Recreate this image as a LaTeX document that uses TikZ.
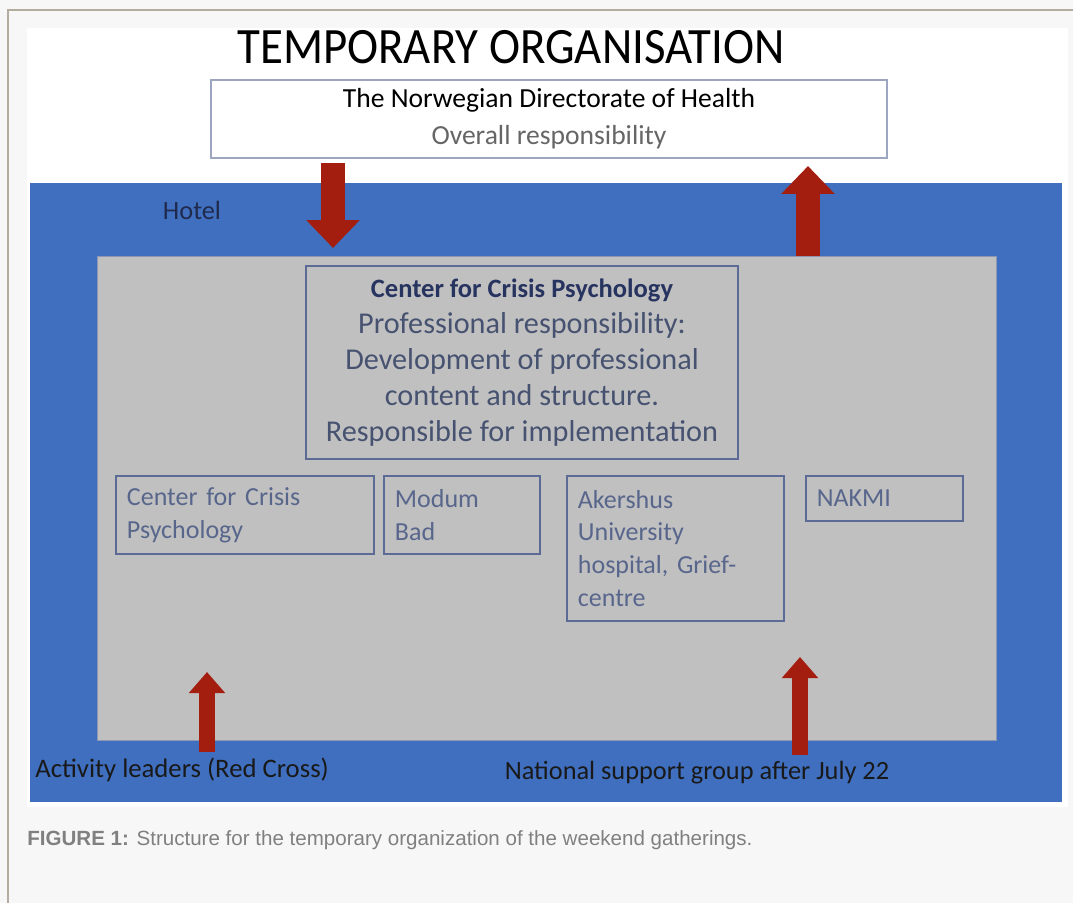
\documentclass[tikz,border=0pt]{standalone}
\usepackage{fontspec}
\setmainfont{Carlito}
\newfontfamily\titlefont[FakeStretch=0.92]{Carlito}
\newfontfamily\capfont{Liberation Sans}
\usetikzlibrary{arrows.meta,positioning}

\definecolor{hotelblue}{RGB}{63,111,190}
\definecolor{sitegrey}{RGB}{192,192,192}
\definecolor{arrowred}{RGB}{163,30,14}
\definecolor{boxline}{RGB}{92,106,150}
\definecolor{boxtext}{RGB}{88,102,140}
\definecolor{headtext}{RGB}{40,52,96}
\definecolor{framegrey}{RGB}{181,172,160}

\tikzset{
  unit/.style={draw=boxline, line width=0.8pt, inner sep=0pt, outer sep=0pt},
  teambox/.style={unit, anchor=north west, align=left, inner xsep=0.22cm,
    text=boxtext, font=\fontsize{14.8}{18.7}\selectfont},
  flow/.style={draw=arrowred, line width=13.6pt,
    -{Triangle[length=15.9pt, width=29.5pt]}},
  smallflow/.style={draw=arrowred, line width=9.5pt,
    -{Triangle[length=12pt, width=20pt]}}
}

\begin{document}
\begin{tikzpicture}[x=0.02cm,y=-0.02cm]
    \useasboundingbox (0,0) rectangle (1073,903);
    %page and frame
    \fill[black!3] (0,0) rectangle (1073,903);
    \draw[framegrey, line width=1.2pt] (8,903) -- (8,10) -- (1073,10);
    \fill[white] (27,28) rectangle (1068,807);

    %title
    \node (title) at (511,47) {\titlefont\fontsize{29}{31}\selectfont TEMPORARY ORGANISATION};

    %directorate
    \node[draw=boxline!60, line width=0.8pt, fill=white, minimum width=13.52cm,
      minimum height=1.56cm, align=center, font=\fontsize{15.7}{19}\selectfont]
      (dir) at (549,119)
      {The Norwegian Directorate of Health\\[2pt] \textcolor{black!60}{Overall responsibility}};

    %hotel and site
    \node[fill=hotelblue, minimum width=20.64cm, minimum height=12.38cm, inner sep=0pt]
      (hotel) at (546,492.5) {};
    \node[fill=sitegrey, draw=boxline!70, line width=0.6pt, minimum width=18cm,
      minimum height=9.7cm, inner sep=0pt] (site) at (547,498.5) {};
    \node[text=headtext!80!black, font=\fontsize{15}{18}\selectfont] (hoteltext) at (192,210) {Hotel};

    %center for crisis psychology
    \node[unit, minimum width=8.64cm, minimum height=3.86cm, align=center, text=boxtext!80!black,
      font=\fontsize{17.2}{20.4}\selectfont] (ccp) at (522,362.5)
      {{\fontsize{15.1}{20.4}\selectfont\bfseries\color{headtext} Center for Crisis Psychology}\\
       Professional responsibility:\\ Development of professional\\
       content and structure.\\ Responsible for implementation};

    %teams row
    \node[teambox, minimum width=5.16cm, minimum height=1.56cm, text width=4.72cm]
      (ccpteam) at (116,476) {Center for Crisis\\Psychology};
    \node[teambox, minimum width=3.12cm, minimum height=1.56cm, text width=2.68cm]
      (modum) [below right=0cm and 0.2cm of ccpteam.north east] {Modum\\Bad};
    \node[teambox, minimum width=4.34cm, minimum height=2.9cm, text width=3.9cm]
      (akershus) [below right=0cm and 0.54cm of modum.north east]
      {Akershus\\University\\hospital, Grief-\\centre};
    \node[teambox, minimum width=3.14cm, minimum height=0.9cm, text width=2.7cm]
      (nakmi) [below right=0cm and 0.44cm of akershus.north east] {NAKMI};

    %groups
    \node[anchor=west, inner xsep=0pt, text=black!90, font=\fontsize{15.2}{18}\selectfont]
      (leaders) at (35,770) {Activity leaders (Red Cross)};
    \node[text=black!90, font=\fontsize{15}{18}\selectfont] (support) at (697,773)
      {National support group after July 22};

    %arrows
    \coordinate (downtop) at (333,163);
    \coordinate (downend) at (333,248);
    \coordinate (uptip) at (808,166);
    \coordinate (leadtip) at (207,672);
    \coordinate (supptip) at (800,657);
    \path[flow] (downtop) -- (downend);
    \path[flow] (site.north -| uptip) -- (uptip);
    \path[smallflow] (leaders.north -| leadtip) -- (leadtip);
    \path[smallflow] (support.north -| supptip) -- (supptip);

    %caption
    \node[anchor=west, inner xsep=0pt, text=black!50, font=\capfont\fontsize{11.7}{14}\selectfont]
      (caption) at (27,840)
      {\textbf{FIGURE 1:} Structure for the temporary organization of the weekend gatherings.};
\end{tikzpicture}
\end{document}
